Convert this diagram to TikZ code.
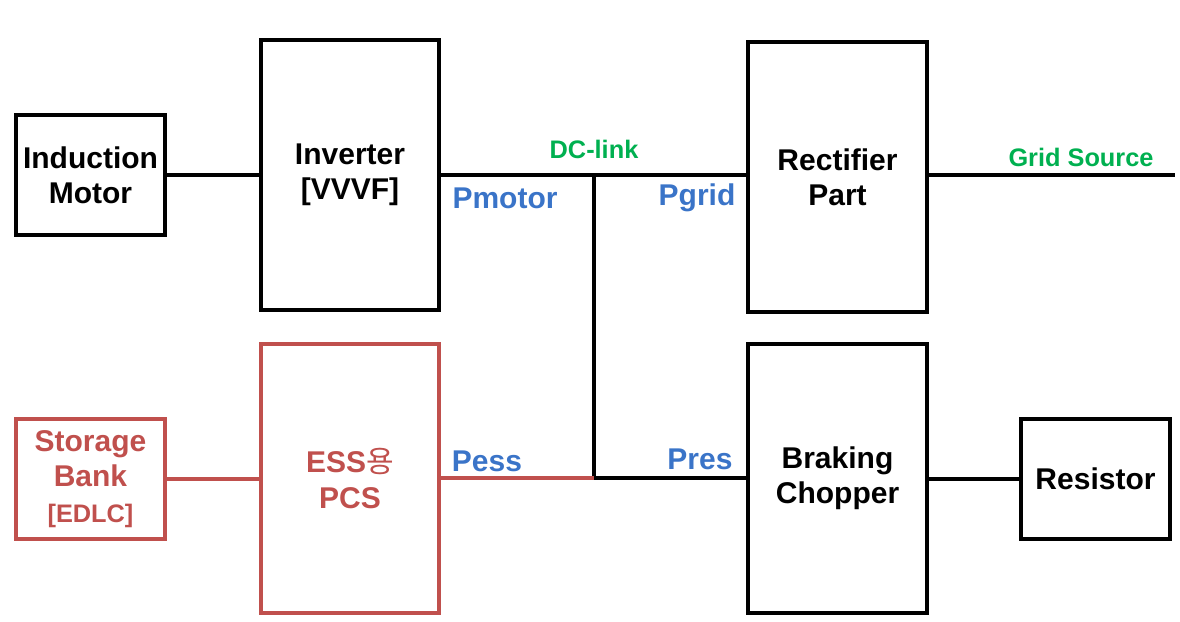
\documentclass[tikz,border=0pt]{standalone}
\usepackage{fontspec}
\setmainfont{Liberation Sans}
\newfontfamily\krfont{Noto Sans CJK KR}
\definecolor{essred}{HTML}{C0504D}
\definecolor{pblue}{HTML}{3A74C8}
\definecolor{linkgreen}{HTML}{00B050}
\tikzset{
    block/.style={draw,line width=3.2pt,align=center,inner sep=0pt,
        font=\bfseries\fontsize{22.5}{26.5}\selectfont},
    smallblock/.style={block,minimum width=111.75pt,minimum height=90pt},
    bigblock/.style={block,minimum width=134pt,minimum height=202pt},
    essblock/.style={draw=essred,text=essred},
    wire/.style={line width=3.2pt},
    esswire/.style={wire,draw=essred},
    plabel/.style={text=pblue,font=\bfseries\fontsize{22.5}{26}\selectfont},
    glabel/.style={text=linkgreen,font=\bfseries\fontsize{19}{22}\selectfont}
}
\begin{document}
\begin{tikzpicture}[x=0.75pt,y=-0.75pt]
    \useasboundingbox (0,0) rectangle (1180,621);

    \node[smallblock] (motor) at (90.5,175) {Induction\\Motor};
    \node[bigblock] (inv) at (350,175) {Inverter\\{[VVVF]}};
    \node[bigblock] (rect) at (837.5,177) {Rectifier\\Part};
    \node[smallblock,essblock] (bank) at (90.5,479) {Storage\\Bank\\{\fontsize{19}{22}\selectfont [EDLC]}};
    \node[bigblock,essblock] (pcs) at (350,478.5) {ESS{\krfont\mdseries 용}\\PCS};
    \node[bigblock] (chop) at (837.5,478.5) {Braking\\Chopper};
    \node[smallblock] (res) at (1095.5,479) {Resistor};

    \coordinate (dc) at (594,175);
    \coordinate (jn) at (594,478);
    \coordinate (grid) at (1175,175);

    \draw[wire] (motor.east) -- (inv.west |- motor.east);
    \draw[wire] (inv.east |- dc) -- (dc) -- (rect.west |- dc);
    \draw[wire] (rect.east |- dc) -- (grid);
    \draw[wire] (dc) -- (jn) -- (chop.west |- jn);
    \draw[esswire] (pcs.east |- jn) -- (jn);
    \draw[esswire] (bank.east) -- (pcs.west |- bank.east);
    \draw[wire] (chop.east |- res.west) -- (res.west);

    \node[glabel] (dclink) at (594,149) {DC-link};
    \node[glabel] (gridsrc) at (1081,157) {Grid Source};
    \node[plabel] (pmotor) at (505,198) {Pmotor};
    \node[plabel] (pgrid) at (697,198) {Pgrid};
    \node[plabel] (pess) at (487,461) {Pess};
    \node[plabel] (pres) at (700,459) {Pres};
\end{tikzpicture}
\end{document}
